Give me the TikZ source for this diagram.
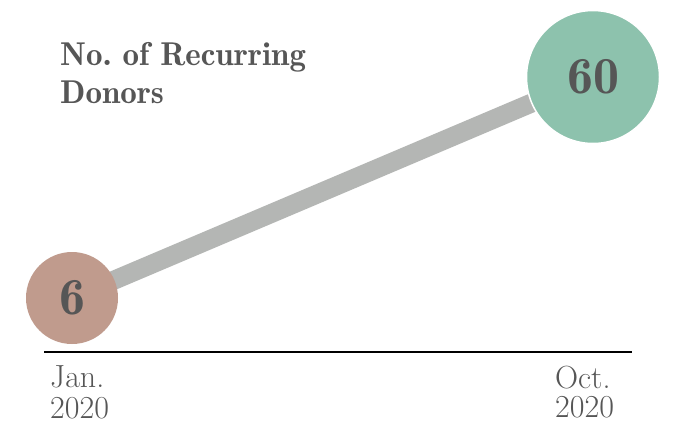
\documentclass[tikz,border=0pt]{standalone}
\usetikzlibrary{backgrounds}
\definecolor{textgray}{HTML}{565656}
\definecolor{startcol}{HTML}{C09B8D}
\definecolor{endcol}{HTML}{8DC2AD}
\definecolor{linegray}{HTML}{B4B6B4}
\tikzset{
  dot/.style={circle, inner sep=0pt, text=textgray, font=\fontsize{52}{52}\fontseries{b}\selectfont},
  datelbl/.style={anchor=base west, inner sep=0pt, text=textgray, font=\fontsize{32}{32}\selectfont},
  titlelbl/.style={anchor=base west, inner sep=0pt, text=textgray, font=\fontsize{33}{38}\fontseries{b}\selectfont}
}
\begin{document}
\begin{tikzpicture}[x=1pt, y=-1pt]
    \useasboundingbox (0,0) rectangle (674,424);

    % Draw title
    \node[titlelbl] (t1) at (60,65) {No.\ of Recurring};
    \node[titlelbl] (t2) at (60,103) {Donors};

    % Draw axis
    \coordinate (axl) at (44,352);
    \coordinate (axr) at (632,352);
    \draw[line width=1.3pt, black] (axl) -- (axr);

    % Draw nodes
    \node[dot, fill=startcol, minimum size=92pt] (jan) at (72,298) {6};
    \node[dot, fill=endcol, draw=white, line width=1.5pt, minimum size=133pt] (oct) at (593,77) {60};

    % Draw connecting bar
    \begin{scope}[on background layer]
    \fill[white] (0,0) rectangle (674,424);
    \draw[line width=19pt, linegray] (jan.center) -- (oct.center);
    \end{scope}

    % Draw date labels
    \node[datelbl] (j1) at (50,387) {Jan.};
    \node[datelbl] (j2) at (50,418) {2020};
    \node[datelbl] (o1) at (555,388) {Oct.};
    \node[datelbl] (o2) at (555,417) {2020};
\end{tikzpicture}
\end{document}
